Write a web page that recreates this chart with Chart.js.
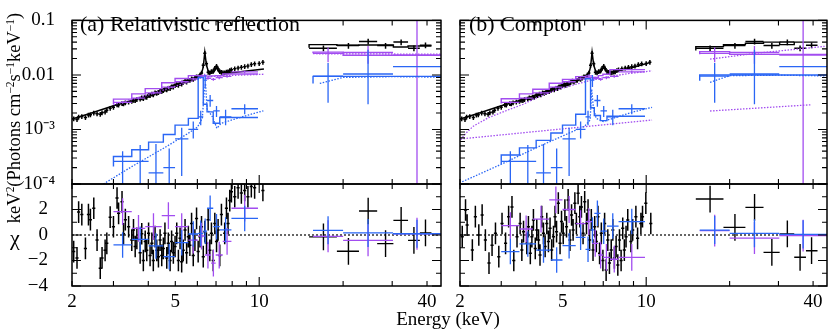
<!DOCTYPE html>
<html>
<head>
<meta charset="utf-8">
<script src="https://cdn.jsdelivr.net/npm/chart.js@4.4.1/dist/chart.umd.min.js"></script>
<style>
  body { margin: 0; background: #fff; }
  #wrap { position: relative; width: 830px; height: 332px; overflow: hidden; font-family: 'Liberation Serif', serif; color: #000; }
  canvas { position: absolute; left: 0; top: 0; }
  .t { position: absolute; white-space: nowrap; line-height: 1; }
  .t sup { font-size: 0.62em; vertical-align: 0.5em; line-height: 0; }
</style>
</head>
<body>
<div id="wrap">
  <canvas id="aTop" width="830" height="332"></canvas>
  <canvas id="aRes" width="830" height="332"></canvas>
  <canvas id="bTop" width="830" height="332"></canvas>
  <canvas id="bRes" width="830" height="332"></canvas>
  <div class="t" style="left:80px;top:13px;font-size:22px">(a) Relativistic reflection</div>
  <div class="t" style="left:469px;top:13px;font-size:22px">(b) Compton</div>
  <div class="t" style="left:14px;top:118px;font-size:18.5px;transform:translate(-50%,-50%) rotate(-90deg)">keV<sup>2</sup>(Photons cm<sup>−2</sup>s<sup>−1</sup>keV<sup>−1</sup>)</div>
  <div class="t" style="left:10px;top:227px;font-size:22px">χ</div>
  <div class="t" style="left:448px;top:309px;font-size:19px;transform:translateX(-50%)">Energy (keV)</div>
</div>
<script>
// ---- axes ----
const xMin = 2.13, xMax = 44.9;
const xTickVals = [2.13, 5, 10, 40];
const xTickText = ['2', '5', '10', '40'];
const xMinorVals = [3, 4, 6, 7, 8, 9, 20, 30];
const yTopVals = [1e-4, 1e-3, 0.01, 0.1];
const yTopText = ['10⁻⁴', '10⁻³', '0.01', '0.1'];
const yResVals = [-4, -2, 0, 2];
const yResText = ['−4', '−2', '0', '2'];
const yResMinor = [-3, -1, 1, 3, 4];

// ---- black (main instrument) spectrum, 2-10 keV: [keV, flux] ----
const blackTop = [[2.16,1.58e-3],[2.22,1.52e-3],[2.25,1.70e-3],[2.31,1.72e-3],[2.38,1.66e-3],[2.44,1.85e-3],[2.48,1.86e-3],[2.55,2.0e-3],[2.62,1.95e-3],[2.69,1.90e-3],[2.73,2.02e-3],[2.80,2.10e-3],[2.84,2.25e-3],[2.92,2.45e-3],[3.00,2.55e-3],[3.09,2.85e-3],[3.13,2.80e-3],[3.22,3.0e-3],[3.26,2.95e-3],[3.31,3.1e-3],[3.40,3.2e-3],[3.49,3.3e-3],[3.54,3.45e-3],[3.59,3.4e-3],[3.64,3.55e-3],[3.74,3.6e-3],[3.79,3.8e-3],[3.84,3.7e-3],[3.90,3.95e-3],[3.95,3.9e-3],[4.01,4.25e-3],[4.06,4.2e-3],[4.12,4.45e-3],[4.17,4.35e-3],[4.23,4.7e-3],[4.29,4.6e-3],[4.35,4.75e-3],[4.41,5.0e-3],[4.47,4.95e-3],[4.53,5.2e-3],[4.59,5.45e-3],[4.66,5.35e-3],[4.72,5.7e-3],[4.79,5.65e-3],[4.85,6.1e-3],[4.92,6.0e-3],[4.99,6.4e-3],[5.06,6.7e-3],[5.13,6.5e-3],[5.20,7.0e-3],[5.27,6.85e-3],[5.34,7.3e-3],[5.42,7.7e-3],[5.49,7.45e-3],[5.57,8.0e-3],[5.64,7.95e-3],[5.72,8.5e-3],[5.80,8.3e-3],[5.88,8.8e-3],[5.96,9.3e-3],[6.04,9.2e-3],[6.13,1.0e-2],[6.21,1.08e-2],[6.30,1.5e-2],[6.38,2.5e-2],[6.47,1.6e-2],[6.56,1.12e-2],[6.65,1.10e-2],[6.74,1.16e-2],[6.84,1.18e-2],[6.93,1.32e-2],[7.03,1.45e-2],[7.12,1.30e-2],[7.22,1.15e-2],[7.32,1.12e-2],[7.42,1.10e-2],[7.52,1.10e-2],[7.63,1.13e-2],[7.73,1.14e-2],[7.84,1.20e-2],[7.95,1.25e-2],[8.17,1.30e-2],[8.40,1.34e-2],[8.63,1.38e-2],[8.87,1.42e-2],[9.11,1.46e-2],[9.37,1.55e-2],[9.63,1.60e-2],[10.0,1.62e-2],[10.31,1.70e-2]];
const blackBinFrac = 0.013, blackFluxErr = 0.1, blackResErr = 0.85;

// black hard X-ray bins: [centre, lo, hi]
const blackHiBins = [[17.0,15.1,19.0],[20.9,19.0,22.8],[24.6,22.8,26.5],[28.4,26.5,30.3],[32.3,30.3,34.2],[35.9,34.2,37.7],[39.5,37.7,41.5]];
const blackHiTop = [0.031, 0.0345, 0.041, 0.0345, 0.040, 0.031, 0.035];
const blackHiErr = 0.12, blackHiResErr = 1.05;
const blackHiModelA = [0.0316, 0.036, 0.035, 0.0355, 0.0355, 0.0325, 0.034];
const blackHiModelB = [0.028, 0.033, 0.036, 0.038, 0.040, 0.036, 0.040];
const blackHiResA = [-0.15, -1.28, 1.88, -0.68, 1.15, -0.42, 0.16];
const blackHiResB = [2.82, 0.6, 2.17, -1.36, 0.08, -1.75, -1.23];

// black model curves [keV, flux]
const blackModelA = [[2.13,1.55e-3],[2.5,2.0e-3],[3.0,2.72e-3],[3.5,3.4e-3],[4.0,4.3e-3],[4.5,5.4e-3],[5.0,6.7e-3],[5.5,8.0e-3],[6.0,9.4e-3],[6.2,1.03e-2],[6.3,1.4e-2],[6.38,2.6e-2],[6.47,1.5e-2],[6.6,1.08e-2],[6.85,1.1e-2],[7.03,1.38e-2],[7.15,1.15e-2],[7.4,1.06e-2],[8.0,1.1e-2],[9.0,1.18e-2],[10.4,1.28e-2]];
const blackModelB = [[2.13,1.55e-3],[2.5,2.0e-3],[3.0,2.72e-3],[3.5,3.4e-3],[4.0,4.3e-3],[4.5,5.4e-3],[5.0,6.7e-3],[5.5,8.0e-3],[6.0,9.4e-3],[6.2,1.03e-2],[6.3,1.4e-2],[6.38,2.6e-2],[6.47,1.5e-2],[6.6,1.1e-2],[6.85,1.12e-2],[7.03,1.4e-2],[7.15,1.2e-2],[7.4,1.12e-2],[8.0,1.2e-2],[9.0,1.38e-2],[10.4,1.7e-2]];

// black residuals [keV, chi]
const blackResA = [[2.16,-1.3],[2.22,-1.8],[2.25,1.8],[2.31,1.6],[2.38,-1.05],[2.44,1.6],[2.48,1.2],[2.55,2.1],[2.62,-0.4],[2.69,-2.6],[2.73,-1.8],[2.80,-1.2],[2.84,-0.65],[2.92,1.4],[3.00,0.65],[3.09,2.9],[3.13,1.7],[3.22,2.6],[3.26,0.1],[3.31,1.2],[3.40,0.65],[3.49,-0.4],[3.54,0.4],[3.59,-0.9],[3.64,-0.26],[3.74,-1.4],[3.79,0.1],[3.84,-2.0],[3.90,-0.5],[3.95,-1.2],[4.01,0.13],[4.06,-1.6],[4.12,-0.65],[4.17,-2.0],[4.23,-0.13],[4.29,-1.2],[4.35,-1.7],[4.41,-0.4],[4.47,-1.6],[4.53,-1.05],[4.59,0.13],[4.66,-1.8],[4.72,-0.65],[4.79,-2.0],[4.85,-0.5],[4.92,-1.4],[4.99,-0.9],[5.06,0.13],[5.13,-2.0],[5.20,-0.26],[5.27,-2.1],[5.34,-1.2],[5.42,0.4],[5.49,-1.4],[5.57,-0.13],[5.64,-0.8],[5.72,0.9],[5.80,-1.6],[5.88,-0.4],[5.96,1.3],[6.04,-1.3],[6.13,-0.13],[6.21,0.65],[6.30,-1.7],[6.38,0.26],[6.47,-0.65],[6.56,1.2],[6.65,-1.2],[6.74,0.13],[6.84,-2.0],[6.93,0.9],[7.03,-0.5],[7.12,0.4],[7.22,-1.6],[7.32,1.6],[7.52,0.13],[7.63,2.1],[7.73,0.9],[7.84,2.7],[7.95,3.4],[8.17,3.0],[8.40,3.7],[8.63,3.3],[8.87,3.5],[9.11,3.0],[9.37,3.8],[9.63,3.7],[10.31,3.5]];
const blackResB = [[2.17,-0.13],[2.23,1.96],[2.26,0.78],[2.36,-1.18],[2.42,1.44],[2.49,0],[2.56,1.57],[2.63,-0.4],[2.71,-2.2],[2.78,-0.8],[2.86,0.13],[2.94,-1.7],[3.02,0.9],[3.11,-0.65],[3.19,1.44],[3.28,2.2],[3.33,-2.0],[3.42,-0.13],[3.51,0.9],[3.56,-1.18],[3.61,0.26],[3.71,-0.65],[3.76,0.65],[3.82,-1.44],[3.87,-0.13],[3.92,1.18],[3.98,-1.05],[4.03,0.4],[4.09,-0.4],[4.14,-1.57],[4.20,1.44],[4.26,0.13],[4.32,-0.9],[4.38,0.9],[4.44,-0.5],[4.50,0.52],[4.56,-1.18],[4.63,-0.13],[4.69,1.44],[4.75,0.26],[4.82,2.5],[4.89,-0.65],[4.95,1.05],[5.02,0.13],[5.09,1.96],[5.16,0.65],[5.23,2.75],[5.31,-0.4],[5.38,1.57],[5.45,0.4],[5.53,2.5],[5.60,0.9],[5.68,3.27],[5.76,1.44],[5.84,2.2],[5.92,0.13],[6.00,2.6],[6.09,0.9],[6.17,1.96],[6.25,-0.4],[6.34,1.18],[6.43,-1.18],[6.52,0.65],[6.61,-0.5],[6.70,1.44],[6.79,-1.44],[6.89,0.13],[6.98,-2.0],[7.08,0.9],[7.17,-2.75],[7.27,-0.4],[7.37,-2.2],[7.48,-1.18],[7.58,0.4],[7.68,-1.8],[7.79,-0.9],[7.90,-2.35],[8.01,-0.4],[8.12,-2.0],[8.23,0.52],[8.34,-1.18],[8.46,-0.13],[8.58,1.18],[8.81,-0.5],[8.94,0.4],[9.18,1.44],[9.31,-0.26],[9.57,0.9],[9.70,1.44],[9.97,2.5],[10.39,0.9]];

// ---- purple instrument ----
const purpleBins = [[3.00,3.49],[3.49,3.90],[3.90,4.47],[4.47,4.99],[4.99,5.57],[5.57,6.04],[6.04,6.38],[6.38,6.72],[6.72,6.98],[6.98,7.40],[7.40,7.95],[7.95,9.90]];
const purpleTop = [3.15e-3, 3.75e-3, 4.7e-3, 6.0e-3, 7.5e-3, 8.5e-3, 9.6e-3, 8.7e-3, 8.3e-3, 8.9e-3, 9.4e-3, 1.14e-2];
const purpleFluxErr = 0.06, purpleResErr = 1.05;
const purpleModelA = [2.9e-3, 3.6e-3, 4.5e-3, 5.6e-3, 7.2e-3, 8.6e-3, 9.7e-3, 9.6e-3, 9.5e-3, 9.6e-3, 9.7e-3, 1.04e-2];
const purpleModelB = [3.0e-3, 3.65e-3, 4.5e-3, 5.45e-3, 7.05e-3, 8.3e-3, 9.3e-3, 9.0e-3, 9.0e-3, 9.7e-3, 1.03e-2, 1.25e-2];
const purpleResA = [1.83, 0.52, 0.65, 1.52, 0.65, -0.4, -0.08, -1.57, -2.2, -1.57, -0.5, 2.1];
const purpleResB = [0.73, 0.47, 1.25, 2.75, 2.0, 0.9, 1.05, -0.65, -1.57, -1.75, -1.9, -1.75];

// ---- blue instrument ----
const blueBins = [[3.00,3.49],[3.49,4.01],[4.01,4.53],[4.53,4.99],[4.99,5.57],[5.57,6.04],[6.04,6.30],[6.30,6.50],[6.50,6.84],[6.84,7.22],[7.22,7.95],[7.95,9.90]];
const blueTop = [2.6e-4, 2.6e-4, 1.6e-4, 2.0e-4, 6.7e-4, 1.0e-3, 1.7e-3, 8.0e-3, 3.4e-3, 2.2e-3, 1.7e-3, 2.4e-3];
const blueTopLo = [1e-5, 1e-5, 1e-5, 1e-5, 1.4e-4, 6.8e-4, 1.2e-3, 6.0e-3, 2.6e-3, 1.7e-3, 1.2e-3, 1.9e-3];
const blueTopHi = [4.0e-4, 5.2e-4, 5.4e-4, 4.5e-4, 1.07e-3, 1.4e-3, 2.2e-3, 1.0e-2, 4.3e-3, 2.7e-3, 2.3e-3, 2.9e-3];
const blueModelA = [2.1e-4, 3.2e-4, 4.25e-4, 5.85e-4, 8.1e-4, 1.2e-3, 1.6e-3, 9.0e-3, 2.9e-3, 2.1e-3, 1.3e-3, 1.66e-3];
const blueModelB = [2.3e-4, 3.4e-4, 4.6e-4, 6.3e-4, 8.6e-4, 1.2e-3, 1.9e-3, 8.5e-3, 2.5e-3, 1.8e-3, 1.45e-3, 1.75e-3];
const blueResA = [-0.78, -0.34, -0.86, -1.7, -0.6, 0.08, 0.13, 0.3, 2.1, 0.65, 0.4, 1.3];
const blueResB = [-1.3, -0.7, -1.18, -1.96, -0.84, -0.18, -1.12, 0.4, 1.7, 0.3, 0.7, 1.05];
const blueResErr = 1.0;

// ---- purple / blue hard X-ray bins ----
const hiBins = [[15.6,20.0],[20.0,30.2],[30.2,44.9]];
const purpleHiTop = [0.0248, 0.0258, 0.023];
const purpleHiLo = [0.017, 0.016, 1e-5];
const purpleHiHi = [0.032, 0.034, 1];
const purpleHiModelA = [0.0250, 0.0262, 0.0230];
const purpleHiModelB = [0.0240, 0.0268, 0.0238];
const purpleHiResA = [-0.1, -0.42, 0.1];
const purpleHiResB = [0.34, -0.24, -0.05];
const purpleHiResErr = 1.25;
const blueHiTop = [0.0095, 0.0104, 0.0142];
const blueHiLo = [0.0031, 0.0029, 0.0142];
const blueHiHi = [0.0166, 0.029, 0.0142];
const blueHiModelA = [0.0070, 0.0094, 0.0094];
const blueHiModelB = [0.0078, 0.0100, 0.0100];
const blueHiResA = [0.37, 0.16, 0.1];
const blueHiResB = [0.39, 0.13, 0.05];
const blueHiResErr = 1.1;

// ---- dotted model components [keV, flux] ----
const blueDotA = [[2.76,1.0e-4],[3.5,2.1e-4],[4.5,4.4e-4],[5.5,8.2e-4],[6.0,1.1e-3],[6.25,1.6e-3],[6.35,5.0e-3],[6.42,7.0e-3],[6.5,2.4e-3],[6.8,1.7e-3],[7.05,1.05e-3],[7.3,1.3e-3],[8.0,1.5e-3],[9.0,1.8e-3],[10.35,2.2e-3]];
const blueDotHiA = [[16.5,7.0e-3],[20.0,9.0e-3],[30.0,9.3e-3],[44.9,9.1e-3]];
const blueDotB = [[2.17,1.1e-4],[3.0,2.3e-4],[4.0,4.6e-4],[5.0,7.6e-4],[6.0,1.15e-3],[6.28,1.5e-3],[6.36,5.5e-3],[6.45,2.5e-3],[6.6,1.6e-3],[7.0,1.4e-3],[8.0,1.75e-3],[9.0,2.1e-3],[10.5,2.55e-3]];
const blueDotHiB = [[17.0,7.3e-3],[20.0,9.7e-3],[30.0,9.9e-3],[44.9,9.6e-3]];
const purpleDotA = [[3.0,2.85e-3],[4.0,4.3e-3],[5.0,6.2e-3],[6.0,8.3e-3],[6.3,9.2e-3],[6.4,1.05e-2],[6.5,9.3e-3],[7.0,9.4e-3],[8.0,9.8e-3],[9.0,1.0e-2],[10.35,1.03e-2]];
const purpleDotHiA = [[15.6,2.45e-2],[44.9,2.4e-2]];
const comptonDotB = [[2.14,6.5e-4],[2.25,8.8e-4],[2.38,1.15e-3],[2.7,1.65e-3],[3.14,2.23e-3],[3.6,2.9e-3],[4.14,4.07e-3],[4.7,5.2e-3],[5.44,6.5e-3],[6.2,7.8e-3],[7.17,9.1e-3],[8.5,1.05e-2],[10.5,1.19e-2]];
const comptonDotHiB = [[17.0,1.95e-2],[25.0,2.5e-2],[44.0,3.34e-2]];
const powerDotB = [[2.14,6.7e-4],[10.5,1.49e-3]];
const powerDotHiB = [[17.0,2.18e-3],[39.4,2.84e-3]];

const C_BLACK = '#000000', C_PURPLE = '#a24df0', C_BLUE = '#2a66f5';
const FONT = { family: "'Liberation Serif', serif", size: 19 };
const Y_AXIS_W = 60, X_AXIS_H = 40;

// ---- helpers ----
function crosses(xc, xlo, xhi, y, ylo, yhi) {
  const pts = [];
  for (let i = 0; i < xc.length; i++) {
    pts.push({ x: xlo[i], y: y[i] }, { x: xhi[i], y: y[i] }, { x: xc[i], y: null },
             { x: xc[i], y: ylo[i] }, { x: xc[i], y: yhi[i] }, { x: xc[i], y: null });
  }
  return pts;
}
const col = (rows, i) => rows.map(r => r[i]);
const centres = bins => bins.map(b => Math.sqrt(b[0] * b[1]));

function crossDs(pts, color, w) {
  return { data: pts, borderColor: color, borderWidth: w || 1.3, pointRadius: 0, spanGaps: false, fill: false };
}
function lineDs(pairs, color, dashed) {
  return { data: pairs.map(p => ({ x: p[0], y: p[1] })), borderColor: color, borderWidth: dashed ? 1.3 : 1.5,
           borderDash: dashed ? [1.5, 1.5] : [], pointRadius: 0, fill: false };
}
function stepDs(bins, vals, color) {
  const d = vals.map((v, i) => ({ x: bins[i][0], y: v }));
  d.push({ x: bins[bins.length - 1][1], y: vals[vals.length - 1] });
  return { data: d, stepped: 'after', borderColor: color, borderWidth: 1.4, pointRadius: 0, fill: false };
}
function binCross(bins, vals, lo, hi, color) {
  return crossDs(crosses(centres(bins), col(bins, 0), col(bins, 1), vals, lo, hi), color);
}
function resCross(bins, r, err, color) {
  return binCross(bins, r, r.map(v => v - err), r.map(v => v + err), color);
}

// black spectrum crosses
function blackTopCross() {
  const e = col(blackTop, 0), f = col(blackTop, 1);
  return crossDs(crosses(e, e.map(v => v * (1 - blackBinFrac)), e.map(v => v * (1 + blackBinFrac)),
    f, f.map(v => v * (1 - blackFluxErr)), f.map(v => v * (1 + blackFluxErr))), C_BLACK, 1.5);
}
function blackHiCross() {
  return crossDs(crosses(col(blackHiBins, 0), col(blackHiBins, 1), col(blackHiBins, 2), blackHiTop,
    blackHiTop.map(v => v * (1 - blackHiErr)), blackHiTop.map(v => v * (1 + blackHiErr))), C_BLACK, 1.5);
}
function blackResCross(rows) {
  const e = col(rows, 0), r = col(rows, 1);
  return crossDs(crosses(e, e.map(v => v * (1 - blackBinFrac)), e.map(v => v * (1 + blackBinFrac)),
    r, r.map(v => v - blackResErr), r.map(v => v + blackResErr)), C_BLACK, 1.5);
}
function blackHiResCross(r) {
  return crossDs(crosses(col(blackHiBins, 0), col(blackHiBins, 1), col(blackHiBins, 2), r,
    r.map(v => v - blackHiResErr), r.map(v => v + blackHiResErr)), C_BLACK, 1.4);
}
const blackHiEdges = blackHiBins.map(b => [b[1], b[2]]);

// frame with inward ticks on all four sides
const framePlugin = {
  id: 'frame',
  afterDatasetsDraw(chart, args, opts) {
    const { ctx, chartArea: a } = chart;
    const xs = chart.scales.x, ys = chart.scales.y;
    ctx.save();
    ctx.strokeStyle = '#000';
    ctx.lineWidth = 1.1;
    ctx.beginPath();
    xs.ticks.forEach(t => {
      const p = xs.getPixelForValue(t.value);
      const len = opts.xMajor.includes(t.value) ? 9 : 5;
      ctx.moveTo(p, a.bottom); ctx.lineTo(p, a.bottom - len);
      ctx.moveTo(p, a.top); ctx.lineTo(p, a.top + len);
    });
    ys.ticks.forEach(t => {
      const p = ys.getPixelForValue(t.value);
      const len = opts.yMajor.some(v => Math.abs(v - t.value) <= Math.abs(v) * 1e-6) ? 9 : 5;
      ctx.moveTo(a.left, p); ctx.lineTo(a.left + len, p);
      ctx.moveTo(a.right, p); ctx.lineTo(a.right - len, p);
    });
    ctx.stroke();
    ctx.lineWidth = 1.5;
    ctx.strokeRect(a.left, a.top, a.right - a.left, a.bottom - a.top);
    ctx.restore();
  }
};

function xScale(showLabels) {
  return {
    type: 'logarithmic', min: xMin, max: xMax,
    grid: { display: false }, border: { display: false },
    afterBuildTicks: s => { s.ticks = [...xTickVals, ...xMinorVals].sort((p, q) => p - q).map(v => ({ value: v })); },
    afterFit: s => { s.height = X_AXIS_H; },
    ticks: { autoSkip: false, maxRotation: 0, padding: -3, font: FONT, color: '#000',
      callback: v => showLabels && xTickVals.includes(v) ? xTickText[xTickVals.indexOf(v)] : '' }
  };
}
const yTopTicks = [];
yTopVals.forEach((d, i) => { for (let m = 1; m <= 9; m++) { if (i < yTopVals.length - 1 || m === 1) yTopTicks.push(d * m); } });
function yTopScale(showLabels) {
  return {
    type: 'logarithmic', min: 1e-4, max: 0.1,
    grid: { display: false }, border: { display: false },
    afterBuildTicks: s => { s.ticks = yTopTicks.map(v => ({ value: v })); },
    afterFit: s => { s.width = Y_AXIS_W; },
    ticks: { autoSkip: false, padding: 9, font: FONT, color: '#000',
      callback: v => {
        if (!showLabels) return '';
        const i = yTopVals.findIndex(t => Math.abs(t - v) <= t * 1e-6);
        return i < 0 ? '' : yTopText[i];
      } }
  };
}
function yResScale(showLabels) {
  return {
    type: 'linear', min: -4, max: 4,
    grid: { display: false }, border: { display: false },
    afterBuildTicks: s => { s.ticks = [...yResVals, ...yResMinor].sort((p, q) => p - q).map(v => ({ value: v })); },
    afterFit: s => { s.width = Y_AXIS_W; },
    ticks: { autoSkip: false, padding: 16, font: FONT, color: '#000',
      callback: v => showLabels && yResVals.includes(v) ? yResText[yResVals.indexOf(v)] : '' }
  };
}

function makeChart(id, area, datasets, x, y, yMajor) {
  new Chart(document.getElementById(id), {
    type: 'line',
    data: { datasets },
    options: {
      responsive: false, animation: false, events: [],
      layout: { padding: { left: area[0] - Y_AXIS_W, top: area[1], right: 830 - area[2], bottom: 332 - area[3] - X_AXIS_H } },
      plugins: { legend: { display: false }, tooltip: { enabled: false }, frame: { xMajor: [10], yMajor } },
      scales: { x, y },
      elements: { line: { tension: 0 } }
    },
    plugins: [framePlugin]
  });
}

const zeroLine = { data: [{ x: xMin, y: 0 }, { x: xMax, y: 0 }], borderColor: '#000', borderWidth: 1.2, borderDash: [2, 2], pointRadius: 0 };

// (a) relativistic reflection
makeChart('aTop', [72, 12, 441, 184], [
  binCross(blueBins, blueTop, blueTopLo, blueTopHi, C_BLUE),
  binCross(hiBins, blueHiTop, blueHiLo, blueHiHi, C_BLUE),
  stepDs(blueBins, blueModelA, C_BLUE),
  stepDs(hiBins, blueHiModelA, C_BLUE),
  lineDs(blueDotA, C_BLUE, true),
  lineDs(blueDotHiA, C_BLUE, true),
  binCross(purpleBins, purpleTop, purpleTop.map(v => v * (1 - purpleFluxErr)), purpleTop.map(v => v * (1 + purpleFluxErr)), C_PURPLE),
  binCross(hiBins, purpleHiTop, purpleHiLo, purpleHiHi, C_PURPLE),
  stepDs(purpleBins, purpleModelA, C_PURPLE),
  stepDs(hiBins, purpleHiModelA, C_PURPLE),
  lineDs(purpleDotA, C_PURPLE, true),
  lineDs(purpleDotHiA, C_PURPLE, true),
  lineDs(blackModelA, C_BLACK, false),
  stepDs(blackHiEdges, blackHiModelA, C_BLACK),
  blackTopCross(),
  blackHiCross()
], xScale(false), yTopScale(true), yTopVals);

makeChart('aRes', [72, 184, 441, 286], [
  resCross(blueBins, blueResA, blueResErr, C_BLUE),
  resCross(hiBins, blueHiResA, blueHiResErr, C_BLUE),
  resCross(purpleBins, purpleResA, purpleResErr, C_PURPLE),
  resCross(hiBins, purpleHiResA, purpleHiResErr, C_PURPLE),
  blackResCross(blackResA),
  blackHiResCross(blackHiResA),
  zeroLine
], xScale(true), yResScale(true), [-4, -2, 0, 2, 4]);

// (b) Compton
makeChart('bTop', [460, 12, 827, 184], [
  binCross(blueBins, blueTop, blueTopLo, blueTopHi, C_BLUE),
  binCross(hiBins, blueHiTop, blueHiLo, blueHiHi, C_BLUE),
  stepDs(blueBins, blueModelB, C_BLUE),
  stepDs(hiBins, blueHiModelB, C_BLUE),
  lineDs(blueDotB, C_BLUE, true),
  lineDs(blueDotHiB, C_BLUE, true),
  binCross(purpleBins, purpleTop, purpleTop.map(v => v * (1 - purpleFluxErr)), purpleTop.map(v => v * (1 + purpleFluxErr)), C_PURPLE),
  binCross(hiBins, purpleHiTop, purpleHiLo, purpleHiHi, C_PURPLE),
  stepDs(purpleBins, purpleModelB, C_PURPLE),
  stepDs(hiBins, purpleHiModelB, C_PURPLE),
  lineDs(comptonDotB, C_PURPLE, true),
  lineDs(comptonDotHiB, C_PURPLE, true),
  lineDs(powerDotB, C_PURPLE, true),
  lineDs(powerDotHiB, C_PURPLE, true),
  lineDs(blackModelB, C_BLACK, false),
  stepDs(blackHiEdges, blackHiModelB, C_BLACK),
  blackTopCross(),
  blackHiCross()
], xScale(false), yTopScale(false), yTopVals);

makeChart('bRes', [460, 184, 827, 286], [
  resCross(blueBins, blueResB, blueResErr, C_BLUE),
  resCross(hiBins, blueHiResB, blueHiResErr, C_BLUE),
  resCross(purpleBins, purpleResB, purpleResErr, C_PURPLE),
  resCross(hiBins, purpleHiResB, purpleHiResErr, C_PURPLE),
  blackResCross(blackResB),
  blackHiResCross(blackHiResB),
  zeroLine
], xScale(true), yResScale(false), [-4, -2, 0, 2, 4]);
</script>
</body>
</html>
